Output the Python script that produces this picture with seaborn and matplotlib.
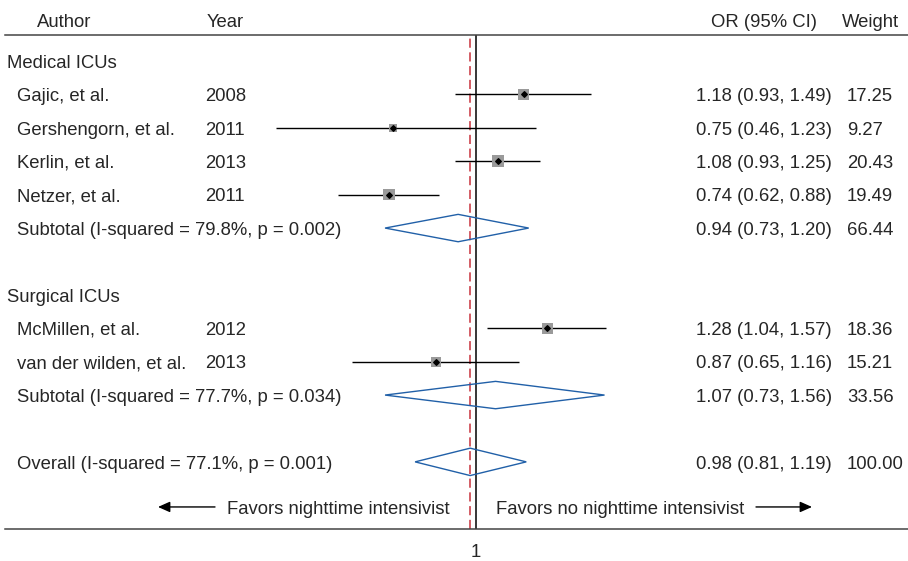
import numpy as np
import seaborn as sns
import matplotlib
matplotlib.use("Agg")
import matplotlib.pyplot as plt
from matplotlib.transforms import blended_transform_factory

# study rows
authors = ["Gajic, et al.", "Gershengorn, et al.", "Kerlin, et al.", "Netzer, et al.",
           "McMillen, et al.", "van der wilden, et al."]
years = ["2008", "2011", "2013", "2011", "2012", "2013"]
odds = [1.18, 0.75, 1.08, 0.74, 1.28, 0.87]
lower = [0.93, 0.46, 0.93, 0.62, 1.04, 0.65]
upper = [1.49, 1.23, 1.25, 0.88, 1.57, 1.16]
weights = [17.25, 9.27, 20.43, 19.49, 18.36, 15.21]
study_rows = [1, 2, 3, 4, 8, 9]

# pooled rows (two subtotals + overall)
pooled_labels = ["Subtotal (I-squared = 79.8%, p = 0.002)",
                 "Subtotal (I-squared = 77.7%, p = 0.034)",
                 "Overall (I-squared = 77.1%, p = 0.001)"]
pooled_or = [0.94, 1.07, 0.98]
pooled_lo = [0.73, 0.73, 0.81]
pooled_hi = [1.20, 1.56, 1.19]
pooled_w = [66.44, 33.56, 100.00]
pooled_rows = [5, 10, 12]

groups = ["Medical ICUs", "Surgical ICUs"]
group_rows = [0, 7]

x_min_shown = 0.5  # CIs are cut at the left end of the scale

sns.set_style("white")
plt.rcParams["font.family"] = ["Liberation Sans", "DejaVu Sans"]
fs = 13.3

W, H = 908, 561
fig = plt.figure(figsize=(W / 100, H / 100), dpi=100)
ax = fig.add_axes([5 / W, (H - 529) / H, 903 / W, 494 / H])
ax.set_xscale("log")
ax.set_xlim(np.exp((5 - 476) / 289), np.exp((908 - 476) / 289))
ax.set_ylim(14.01, -0.78)

for s in ["left", "right"]:
    ax.spines[s].set_visible(False)
for s in ["top", "bottom"]:
    ax.spines[s].set_color("#444444")
    ax.spines[s].set_linewidth(1.1)

ax.set_yticks([])
ax.set_xticks([1])
ax.set_xticklabels(["1"], fontsize=fs)
ax.xaxis.set_minor_locator(matplotlib.ticker.NullLocator())
ax.tick_params(axis="x", direction="out", length=6, width=1, color="black", pad=5)

# reference lines
ax.axvline(1, color="black", lw=1.1, zorder=1)
ax.axvline(pooled_or[-1], color="#c8323c", lw=1.1, ls=(0, (6, 3)), zorder=1)

# confidence intervals
lo_clip = np.clip(lower, x_min_shown, None)
ax.hlines(study_rows, lo_clip, upper, color="black", lw=1.0, zorder=2)

# weighted squares (area ~ weight) with a small marker in the middle
k = 3.6
sns.scatterplot(x=odds, y=study_rows, size=weights,
                sizes=(k * min(weights), k * max(weights)),
                marker="s", color="#9a9a9a", edgecolor="none", linewidth=0,
                legend=False, ax=ax, zorder=3)
ax.scatter(odds, study_rows, marker="D", s=8, color="black", zorder=4)

# diamonds
for r, c, lo, hi in zip(pooled_rows, pooled_or, pooled_lo, pooled_hi):
    ax.fill([lo, c, hi, c, lo], [r, r - 0.41, r, r + 0.41, r],
            facecolor="none", edgecolor="#2160a8", lw=1.0, zorder=3)

# text columns
tr = blended_transform_factory(fig.transFigure, ax.transData)
off = 0.2


def put(px, row, s):
    ax.text(px / W, row + off, s, transform=tr, fontsize=fs, va="baseline",
            ha="left", clip_on=False)


hdr = -1.22
put(37, hdr, "Author")
put(207, hdr, "Year")
put(711, hdr, "OR (95% CI)")
put(842, hdr, "Weight")

for g, r in zip(groups, group_rows):
    put(7, r, g)

for a, y, o, lo, hi, w, r in zip(authors, years, odds, lower, upper, weights, study_rows):
    put(17, r, a)
    put(205, r, y)
    put(696, r, f"{o:.2f} ({lo:.2f}, {hi:.2f})")
    put(847, r, f"{w:.2f}")

for lab, o, lo, hi, w, r in zip(pooled_labels, pooled_or, pooled_lo, pooled_hi, pooled_w, pooled_rows):
    put(17, r, lab)
    put(696, r, f"{o:.2f} ({lo:.2f}, {hi:.2f})")
    put(847, r, f"{w:.2f}")

# favours line
fav_row = 13.35
put(227, fav_row, "Favors nighttime intensivist")
put(496, fav_row, "Favors no nighttime intensivist")
arrow = dict(arrowstyle="-|>,head_length=0.45,head_width=0.2", color="black",
             lw=1.0, mutation_scale=16, shrinkA=0, shrinkB=0)
ax.annotate("", xy=(158 / W, fav_row), xytext=(215 / W, fav_row),
            xycoords=tr, textcoords=tr, arrowprops=arrow)
ax.annotate("", xy=(812 / W, fav_row), xytext=(756 / W, fav_row),
            xycoords=tr, textcoords=tr, arrowprops=arrow)

fig.savefig("out.png", dpi=100)
